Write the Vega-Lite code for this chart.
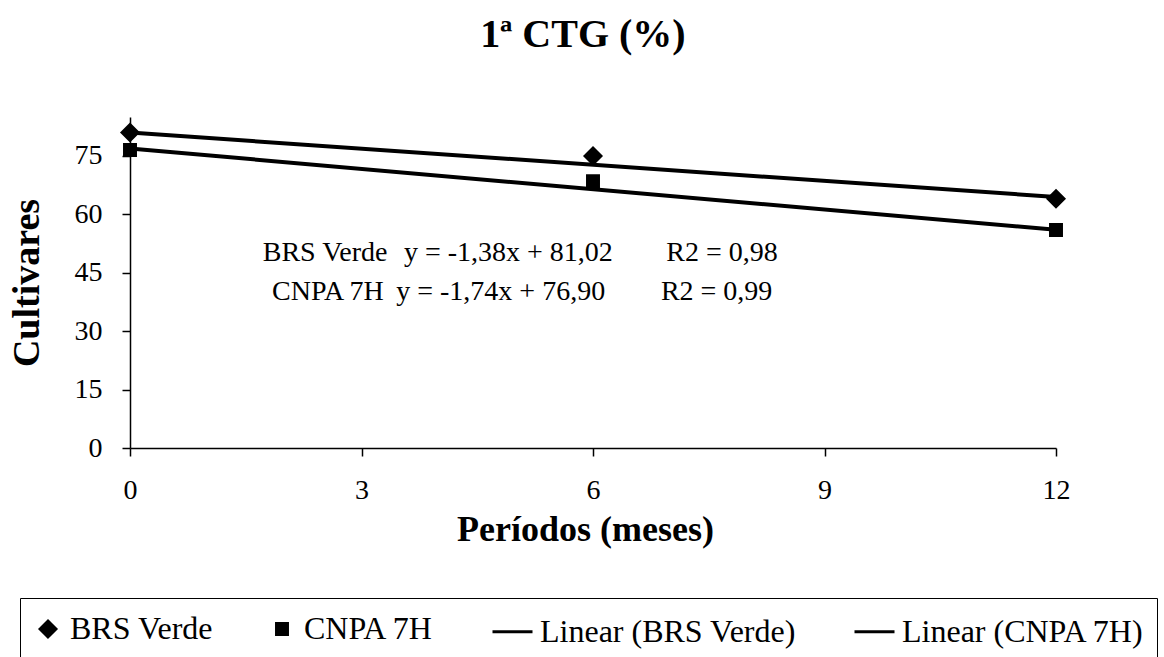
{
  "$schema": "https://vega.github.io/schema/vega-lite/v6.json",
  "autosize": {"type": "none"},
  "padding": {"left": 130, "top": 117, "right": 108, "bottom": 209},
  "width": 926,
  "height": 331,
  "background": "white",
  "title": {
    "text": "1ª CTG (%)",
    "font": "Liberation Serif",
    "fontSize": 40,
    "fontWeight": "bold",
    "color": "black",
    "anchor": "middle",
    "offset": 62,
    "dx": -10
  },
  "config": {
    "view": {"stroke": null},
    "axis": {
      "labelFont": "Liberation Serif",
      "titleFont": "Liberation Serif",
      "labelColor": "black",
      "titleColor": "black",
      "domainColor": "black",
      "tickColor": "black",
      "grid": false,
      "titleFontWeight": "bold",
      "labelFlush": false
    }
  },
  "datasets": {
    "points": [
      {"period": 0, "value": 81, "series": "BRS Verde"},
      {"period": 6, "value": 75, "series": "BRS Verde"},
      {"period": 12, "value": 64, "series": "BRS Verde"},
      {"period": 0, "value": 76.5, "series": "CNPA 7H"},
      {"period": 6, "value": 68.5, "series": "CNPA 7H"},
      {"period": 12, "value": 56, "series": "CNPA 7H"}
    ],
    "trend": [
      {"period": 0, "value": 81.02, "series": "Linear (BRS Verde)"},
      {"period": 12, "value": 64.46, "series": "Linear (BRS Verde)"},
      {"period": 0, "value": 76.9, "series": "Linear (CNPA 7H)"},
      {"period": 12, "value": 56.02, "series": "Linear (CNPA 7H)"}
    ],
    "notes": [
      {"text": "BRS Verde", "period": 1.72, "value": 50},
      {"text": "y = -1,38x + 81,02", "period": 3.55, "value": 50},
      {"text": "R2 = 0,98", "period": 6.95, "value": 50},
      {"text": "CNPA 7H", "period": 1.84, "value": 40},
      {"text": "y = -1,74x + 76,90", "period": 3.45, "value": 40},
      {"text": "R2 = 0,99", "period": 6.88, "value": 40}
    ]
  },
  "encoding": {
    "x": {
      "field": "period",
      "type": "quantitative",
      "scale": {"domain": [0, 12], "nice": false, "zero": false},
      "axis": {
        "values": [0, 3, 6, 9, 12],
        "title": "Períodos (meses)",
        "titleFontSize": 36,
        "titlePadding": 8,
        "titleX": 455,
        "labelFontSize": 28,
        "labelPadding": 20,
        "tickSize": 8,
        "domainWidth": 1.5,
        "tickWidth": 1.5
      }
    },
    "y": {
      "field": "value",
      "type": "quantitative",
      "scale": {"domain": [0, 85], "nice": false},
      "axis": {
        "values": [0, 15, 30, 45, 60, 75],
        "title": "Cultivares",
        "titleFontSize": 38,
        "titlePadding": 28,
        "labelFontSize": 28,
        "labelPadding": 20,
        "tickSize": 8,
        "domainWidth": 1.5,
        "tickWidth": 1.5
      }
    }
  },
  "layer": [
    {
      "data": {"name": "trend"},
      "mark": {"type": "line", "color": "black", "strokeWidth": 4},
      "encoding": {"detail": {"field": "series"}}
    },
    {
      "data": {"name": "points"},
      "mark": {"type": "point", "filled": true, "fill": "black", "stroke": "black", "strokeWidth": 3, "opacity": 1, "strokeOpacity": 1},
      "encoding": {
        "shape": {
          "field": "series",
          "type": "nominal",
          "scale": {
            "domain": ["BRS Verde", "CNPA 7H", "Linear (BRS Verde)", "Linear (CNPA 7H)"],
            "range": ["diamond", "square", "stroke", "stroke"]
          },
          "legend": {
            "title": null,
            "orient": "none",
            "legendX": -110,
            "legendY": 481,
            "direction": "horizontal",
            "strokeColor": "black",
            "padding": 12,
            "labelFont": "Liberation Serif",
            "labelFontSize": 32,
            "labelColor": "black",
            "labelLimit": 500,
            "labelOffset": 6,
            "columnPadding": 52,
            "symbolStrokeColor": "black",
            "symbolStrokeWidth": 3
          }
        },
        "size": {
          "field": "series",
          "type": "nominal",
          "scale": {
            "type": "ordinal",
            "domain": ["BRS Verde", "CNPA 7H", "Linear (BRS Verde)", "Linear (CNPA 7H)"],
            "range": [250, 120, 1600, 1600]
          }
        }
      }
    },
    {
      "data": {"name": "notes"},
      "mark": {"type": "text", "align": "left", "baseline": "middle", "font": "Liberation Serif", "fontSize": 28, "color": "black"},
      "encoding": {"text": {"field": "text"}}
    }
  ]
}
